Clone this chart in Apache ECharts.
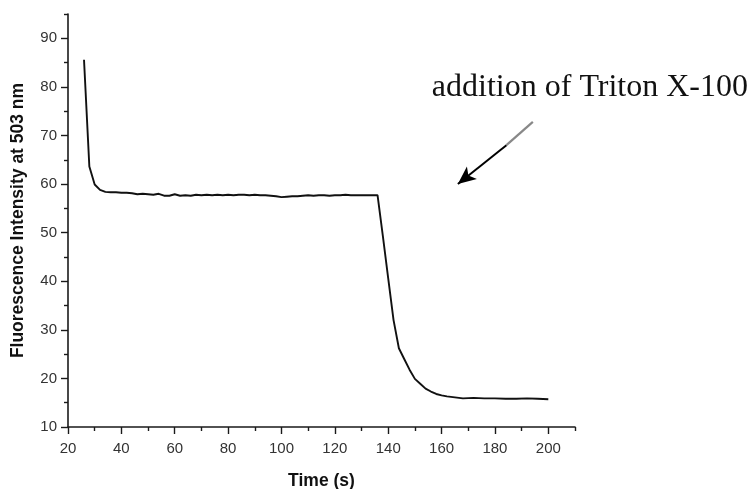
<!DOCTYPE html>
<html>
<head>
<meta charset="utf-8">
<script src="https://cdn.jsdelivr.net/npm/echarts@6/dist/echarts.min.js"></script>
<style>
  html, body { margin: 0; padding: 0; background: #fff; }
  #chart { width: 750px; height: 489px; }
</style>
</head>
<body>
<div id="chart"></div>
<script>
// Fluorescence trace before and after detergent addition
const timeS = [26, 28, 30, 32, 34, 36, 38, 40, 42, 44, 46, 48, 50, 52, 54, 56, 58, 60,
  62, 64, 66, 68, 70, 72, 74, 76, 78, 80, 82, 84, 86, 88, 90, 92, 94, 96, 98, 100,
  102, 104, 106, 108, 110, 112, 114, 116, 118, 120, 122, 124, 126, 128, 130, 132, 134, 136,
  138, 140, 142, 144, 146, 148, 150, 152, 154, 156, 158, 160, 162, 165, 168, 172, 176,
  180, 184, 188, 192, 196, 200];
const intensity = [85.6, 63.6, 59.9, 58.8, 58.4, 58.3, 58.3, 58.2, 58.2, 58.1, 57.9, 58.0, 57.9, 57.8, 58.0, 57.6, 57.6, 57.9,
  57.6, 57.7, 57.6, 57.8, 57.7, 57.8, 57.7, 57.8, 57.7, 57.8, 57.7, 57.8, 57.8, 57.7, 57.8, 57.7, 57.7, 57.6, 57.5, 57.3,
  57.4, 57.5, 57.5, 57.6, 57.7, 57.6, 57.7, 57.7, 57.6, 57.7, 57.7, 57.8, 57.7, 57.7, 57.7, 57.7, 57.7, 57.7,
  49.3, 40.6, 32.0, 26.2, 24.0, 21.8, 19.9, 18.9, 17.9, 17.3, 16.8, 16.5, 16.3, 16.1, 15.9, 16.0, 15.9,
  15.9, 15.8, 15.8, 15.9, 15.8, 15.7];

const xMajorTicks = [20, 40, 60, 80, 100, 120, 140, 160, 180, 200];
const xMinorTicks = [30, 50, 70, 90, 110, 130, 150, 170, 190, 210];
const yMajorTicks = [10, 20, 30, 40, 50, 60, 70, 80, 90];
const yMinorTicks = [15, 25, 35, 45, 55, 65, 75, 85, 95];

const annotationText = 'addition of Triton X-100';
// arrow from the note down toward the curve, in data units
const arrowTail = [194.2, 72.8];
const arrowBend = [184.3, 68.0];
const arrowHead = [166.1, 60.0];

const xRange = [20, 210];
const yRange = [10, 95];

const axisColor = '#1a1a1a';
const labelColor = '#333';
const sans = 'Liberation Sans, Arial, sans-serif';

function xAxisDef(ticks, len, withLabels, withLine, name) {
  return {
    type: 'value', min: xRange[0], max: xRange[1], position: 'bottom',
    name: name || '', nameLocation: 'middle', nameGap: 45,
    nameTextStyle: { fontFamily: sans, fontWeight: 'bold', fontSize: 17.5, color: '#111' },
    axisLine: { show: withLine, onZero: false, lineStyle: { color: axisColor, width: 1.6 } },
    axisTick: { show: true, inside: false, length: len, customValues: ticks, lineStyle: { color: axisColor, width: 1.4 } },
    axisLabel: { show: withLabels, customValues: ticks, margin: 14, fontFamily: sans, fontSize: 15, color: labelColor },
    splitLine: { show: false }
  };
}
function yAxisDef(ticks, len, withLabels, withLine, name) {
  return {
    type: 'value', min: yRange[0], max: yRange[1], position: 'left',
    name: name || '', nameLocation: 'middle', nameGap: 41,
    nameTextStyle: { fontFamily: sans, fontWeight: 'bold', fontSize: 17.5, color: '#111' },
    axisLine: { show: withLine, onZero: false, lineStyle: { color: axisColor, width: 1.6 } },
    axisTick: { show: true, inside: false, length: len, customValues: ticks, lineStyle: { color: axisColor, width: 1.4 } },
    axisLabel: { show: withLabels, customValues: ticks, margin: 11, fontFamily: sans, fontSize: 15, color: labelColor },
    splitLine: { show: false }
  };
}

const chart = echarts.init(document.getElementById('chart'), null, { renderer: 'canvas' });
chart.setOption({
  animation: false,
  backgroundColor: '#fff',
  grid: { left: 68, right: 175, top: 14, bottom: 62, containLabel: false, outerBoundsMode: 'none' },
  xAxis: [
    xAxisDef(xMajorTicks, 7, true, true, 'Time (s)'),
    xAxisDef(xMinorTicks, 4, false, false)
  ],
  yAxis: [
    yAxisDef(yMajorTicks, 7, true, true, 'Fluorescence Intensity at 503 nm'),
    yAxisDef(yMinorTicks, 4, false, false)
  ],
  graphic: [{
    type: 'text',
    right: 2, top: 72,
    style: {
      text: annotationText,
      font: '32px "Liberation Serif", "Times New Roman", serif',
      fill: '#111'
    }
  }],
  series: [{
    type: 'line',
    xAxisIndex: 0, yAxisIndex: 0,
    data: timeS.map((t, i) => [t, intensity[i]]),
    showSymbol: false,
    lineStyle: { color: '#111', width: 1.9 },
    markLine: {
      silent: true,
      label: { show: false },
      emphasis: { disabled: true },
      data: [
        [{ coord: arrowTail, symbol: 'none', lineStyle: { color: '#888', width: 2.2, type: 'solid' } },
         { coord: arrowBend, symbol: 'none' }],
        [{ coord: arrowBend, symbol: 'none', lineStyle: { color: '#000', width: 2, type: 'solid' } },
         { coord: arrowHead, symbol: 'arrow', symbolSize: [12, 18] }]
      ]
    }
  }]
});
</script>
</body>
</html>
